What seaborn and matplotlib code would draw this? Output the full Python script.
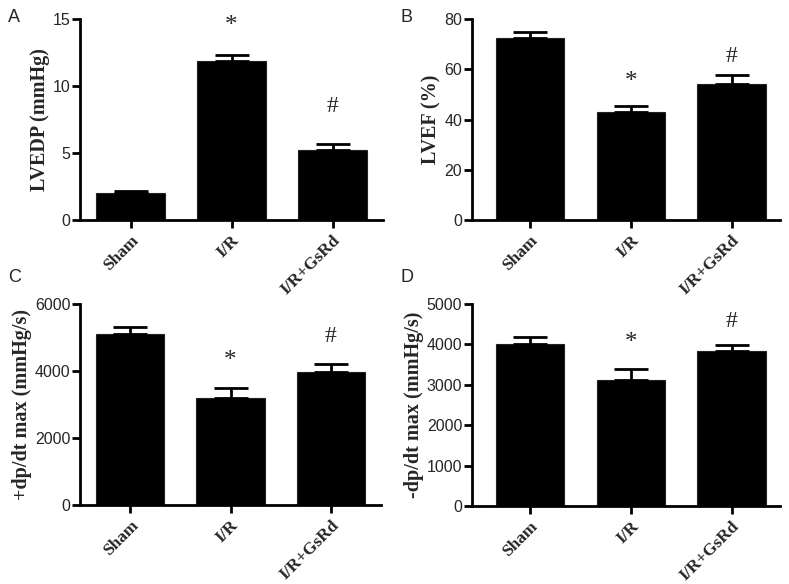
import matplotlib
matplotlib.use("Agg")
import matplotlib.pyplot as plt
import seaborn as sns
import pandas as pd

groups = ["Sham", "I/R", "I/R+GsRd"]

lvedp_mean = [2.0, 11.85, 5.2]
lvedp_sem = [0.2, 0.5, 0.45]
lvef_mean = [72.3, 43.0, 54.1]
lvef_sem = [2.5, 2.2, 3.5]
pdp_mean = [5110, 3200, 3980]
pdp_sem = [190, 280, 240]
ndp_mean = [4010, 3120, 3845]
ndp_sem = [180, 270, 150]

ylabels = ["LVEDP (mmHg)", "LVEF (%)", "+dp/dt max (mmHg/s)", "-dp/dt max (mmHg/s)"]
letters = ["A", "B", "C", "D"]
yticks = [[0, 5, 10, 15], [0, 20, 40, 60, 80], [0, 2000, 4000, 6000], [0, 1000, 2000, 3000, 4000, 5000]]
ylims = [15, 80, 6000, 5000]
star_y = [14.5, 55, 4300, 4040]
hash_y = [8.5, 65, 5030, 4560]

sns.set_theme(style="ticks")
plt.rcParams['font.family'] = ['Liberation Sans', 'DejaVu Sans']

fig = plt.figure(figsize=(7.89, 5.84), dpi=100)
W, H = 789, 584
# axes rectangles in pixels: left, top, right, bottom
rects = [(80, 19, 383, 220), (472, 19, 780, 220), (80, 304, 381, 505), (472, 304, 780, 506)]
xlims = [(-0.5, 2.5), (-0.575, 2.48), (-0.5, 2.5), (-0.575, 2.48)]
letter_pos = [(8, 17), (401, 17), (8, 278), (401, 278)]

means = [lvedp_mean, lvef_mean, pdp_mean, ndp_mean]
sems = [lvedp_sem, lvef_sem, pdp_sem, ndp_sem]

for i in range(4):
    l, t, r, b = rects[i]
    ax = fig.add_axes([l / W, 1 - b / H, (r - l) / W, (b - t) / H])
    df = pd.DataFrame({"group": groups, "value": means[i]})
    sns.barplot(data=df, x="group", y="value", color="black", width=0.68,
                saturation=1, errorbar=None, ax=ax, edgecolor="#222222", linewidth=0.8)
    ax.errorbar(range(3), means[i], yerr=[[0, 0, 0], sems[i]], fmt="none",
                ecolor="black", elinewidth=2, capsize=12.5, capthick=2)
    ax.set_xlim(*xlims[i])
    ax.set_ylim(0, ylims[i])
    ax.set_yticks(yticks[i])
    ax.set_xlabel("")
    ax.set_ylabel(ylabels[i], family="Liberation Serif", fontweight="bold", fontsize=14.5, labelpad=2)
    for s in ["top", "right"]:
        ax.spines[s].set_visible(False)
    for s in ["left", "bottom"]:
        ax.spines[s].set_linewidth(2)
        ax.spines[s].set_color("black")
    ax.tick_params(axis="both", width=2, length=6, color="black", direction="out")
    ax.tick_params(axis="y", labelsize=11.5, pad=1)
    ax.set_xticks(range(3))
    ax.set_xticklabels(groups, rotation=45, ha="right", rotation_mode="anchor",
                       family="Liberation Serif", fontweight="bold", fontsize=12.5)
    ax.tick_params(axis="x", pad=3)
    ax.text(1, star_y[i], "*", ha="center", va="center", family="Liberation Serif", fontsize=18)
    ax.text(2, hash_y[i], "#", ha="center", va="center", family="Liberation Serif", fontsize=17)
    fig.text(letter_pos[i][0] / W, 1 - letter_pos[i][1] / H, letters[i], fontsize=13,
             ha="left", va="center")

fig.savefig("out.png", dpi=100)
